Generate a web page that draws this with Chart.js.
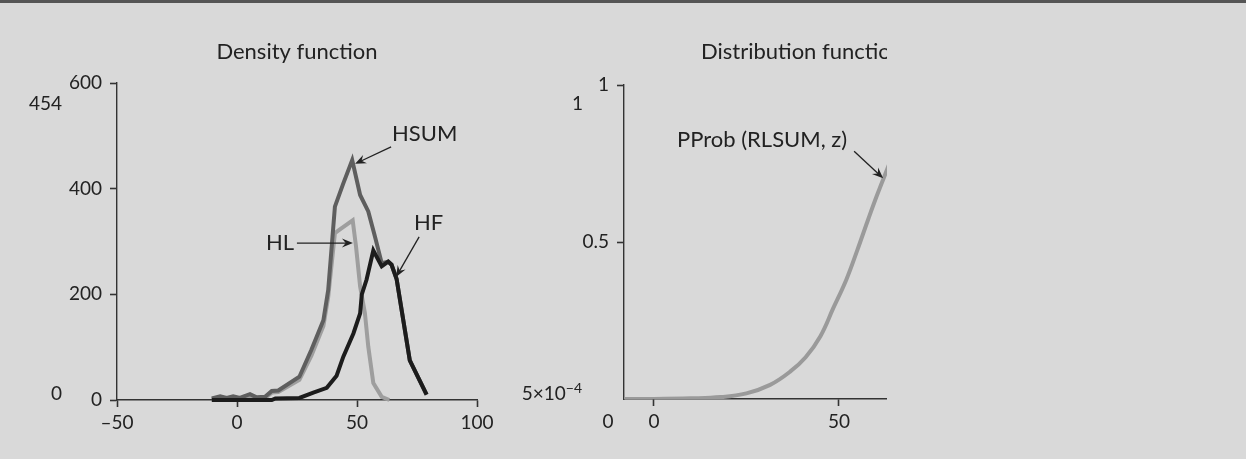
<!DOCTYPE html>
<html>
<head>
<meta charset="utf-8">
<script src="https://cdn.jsdelivr.net/npm/chart.js@4.4.1/dist/chart.umd.min.js"></script>
<style>
  html, body { margin: 0; padding: 0; background: #d9d9d9; }
  body { width: 1246px; height: 459px; position: relative; overflow: hidden; }
  #bar { position: absolute; left: 0; top: 0; width: 1246px; height: 3px; background: #555; z-index: 2; }
  canvas { position: absolute; top: 0; }
  #density { left: 0; }
  #distribution { left: 500px; }
</style>
</head>
<body>
<div id="bar"></div>
<canvas id="density" width="500" height="459"></canvas>
<canvas id="distribution" width="387" height="459"></canvas>
<script>
// ---- data ----
const hsumX = [-10.5, -7, -4.3, -1.6, 1.2, 5.4, 8.2, 11.7, 14.5, 17.2, 26, 31, 36, 38, 40.8, 44.3, 48, 51.3, 54.7, 57.5, 60.3, 63, 64.4, 66.5, 72, 79];
const hsumY = [3, 7, 4, 7, 4, 11, 5, 6, 17, 18, 44, 95, 151, 208, 366, 410, 454, 388, 357, 309, 259, 262, 256, 229, 75, 10];

const hlX = [-10.5, -7, -4.3, -1.6, 1.2, 5.4, 8.2, 11.7, 14.5, 17.2, 26, 31, 36, 38, 40.8, 42.6, 48.2, 49.6, 51.3, 53.3, 54.7, 56.8, 60.3, 63.5];
const hlY = [2, 5, 3, 5, 3, 8, 4, 4, 14, 15, 38, 84, 140, 195, 316, 322, 340, 290, 215, 164, 101, 32, 6, 0];

const hfX = [-10.5, 14.5, 16, 26, 31.8, 37.4, 41.5, 44.3, 48.5, 51.3, 52, 54, 56.8, 60.3, 63, 64.4, 66.5, 72, 79];
const hfY = [0, 0, 3, 4, 14, 23, 46, 82, 126, 164, 200, 228, 283, 253, 262, 256, 229, 75, 10];

const cdfX = [-8.1, 0, 10, 18, 25, 31.4, 36.8, 41, 45, 48.5, 52, 55, 58, 60.5, 63.5];
const cdfY = [0, 0, 0.002, 0.006, 0.018, 0.045, 0.087, 0.133, 0.2, 0.29, 0.38, 0.475, 0.575, 0.655, 0.745];

const densityXTicks = [-50, 0, 50, 100];
const densityYTicks = [0, 200, 400, 600];
const distXTicks = [0, 50];
const distYTicks = [0.5, 1];

const FONT = 'Lato, "DejaVu Sans", sans-serif';
const INK = '#222';
const AXIS = '#333';

Chart.defaults.font.family = FONT;
Chart.defaults.color = INK;

function points(xs, ys) {
    return xs.map((x, i) => ({ x: x, y: ys[i] }));
}

function stealth(ctx, x0, y0, x1, y1) {
    const a = Math.atan2(y1 - y0, x1 - x0);
    const len = 11, half = 4.5;
    ctx.beginPath();
    ctx.moveTo(x0, y0);
    ctx.lineTo(x1 - Math.cos(a) * len * 0.6, y1 - Math.sin(a) * len * 0.6);
    ctx.stroke();
    ctx.save();
    ctx.translate(x1, y1);
    ctx.rotate(a);
    ctx.beginPath();
    ctx.moveTo(0, 0);
    ctx.lineTo(-len, -half);
    ctx.lineTo(-len * 0.65, 0);
    ctx.lineTo(-len, half);
    ctx.closePath();
    ctx.fill();
    ctx.restore();
}

// titles, extra range labels and arrows
const deco = {
    id: "deco",
    afterDraw(chart, args, opts) {
        const ctx = chart.ctx;
        const xs = chart.scales.x, ys = chart.scales.y;
        ctx.save();
        ctx.fillStyle = INK;
        ctx.strokeStyle = INK;
        ctx.lineWidth = 1.3;
        ctx.textBaseline = "alphabetic";

        const t = opts.title;
        ctx.font = "22px " + FONT;
        ctx.textAlign = t.align;
        ctx.fillText(t.text, t.x, t.y);

        ctx.font = "19px " + FONT;
        (opts.extras || []).forEach(e => {
            ctx.textAlign = e.align || "right";
            if (e.sup) {
                ctx.font = "14px " + FONT;
                const w = ctx.measureText(e.sup).width;
                ctx.textAlign = "right";
                ctx.fillText(e.sup, e.x, e.y - 7);
                ctx.font = "19px " + FONT;
                ctx.fillText(e.text, e.x - w, e.y);
            } else {
                ctx.fillText(e.text, e.x, e.y);
            }
        });

        ctx.font = "22px " + FONT;
        (opts.arrows || []).forEach(a => {
            ctx.textAlign = "left";
            ctx.fillText(a.text, a.tx, a.ty);
            const px = xs.getPixelForValue(a.at[0]);
            const py = ys.getPixelForValue(a.at[1]);
            stealth(ctx, px + a.tail[0], py + a.tail[1], px, py);
        });
        ctx.restore();
    }
};

function axis(min, max, tickList, fit, isX, label) {
    return {
        type: "linear",
        min: min,
        max: max,
        afterBuildTicks: s => { s.ticks = tickList.map(v => ({ value: v })); },
        afterFit: s => { if (isX) s.height = fit; else s.width = fit; },
        border: { display: true, color: AXIS, width: 1.4 },
        grid: { display: true, drawOnChartArea: false, drawTicks: true, tickLength: 7, tickColor: AXIS, tickWidth: 1.6 },
        ticks: {
            font: { size: 19 },
            color: INK,
            padding: isX ? 4 : 8,
            maxRotation: 0,
            autoSkip: false,
            callback: label
        }
    };
}

const common = {
    responsive: false,
    devicePixelRatio: 1,
    animation: false,
    events: [],
    plugins: { legend: { display: false }, tooltip: { enabled: false } },
    elements: { point: { radius: 0 } }
};

new Chart(document.getElementById("density"), {
    type: "line",
    data: {
        datasets: [
            { label: "HF", data: points(hfX, hfY), borderColor: "#1c1c1c", borderWidth: 4, tension: 0, clip: 6 },
            { label: "HSUM", data: points(hsumX, hsumY), borderColor: "#5e5e5e", borderWidth: 4, tension: 0, clip: 6 },
            { label: "HL", data: points(hlX, hlY), borderColor: "#9e9e9e", borderWidth: 4, tension: 0, clip: 6 }
        ]
    },
    options: Object.assign({}, common, {
        layout: { padding: { left: 0, right: 23, top: 83, bottom: 0 } },
        scales: {
            x: axis(-50, 100, densityXTicks, 59, true, v => String(v).replace("-", "\u2013")),
            y: axis(0, 600, densityYTicks, 117, false, v => String(v))
        },
        plugins: Object.assign({}, common.plugins, {
            deco: {
                title: { text: "Density function", x: 297, y: 59, align: "center" },
                extras: [
                    { text: "454", x: 62, y: 110 },
                    { text: "0", x: 62, y: 400 }
                ],
                arrows: [
                    { text: "HSUM", tx: 392, ty: 141, at: [49.2, 447], tail: [36, -17] },
                    { text: "HL", tx: 266, ty: 250, at: [48.3, 297], tail: [-56, 0] },
                    { text: "HF", tx: 414, ty: 230, at: [66.3, 233], tail: [23, -40] }
                ]
            }
        })
    }),
    plugins: [deco]
});

new Chart(document.getElementById("distribution"), {
    type: "line",
    data: {
        datasets: [
            { label: "PProb (RLSUM, z)", data: points(cdfX, cdfY), borderColor: "#9a9a9a", borderWidth: 4, tension: 0.4, clip: 0 }
        ]
    },
    options: Object.assign({}, common, {
        layout: { padding: { left: 0, right: 0, top: 85, bottom: 0 } },
        scales: {
            x: axis(-8.1, 63, distXTicks, 60, true, v => String(v)),
            y: axis(0, 1, distYTicks, 124, false, v => String(v))
        },
        plugins: Object.assign({}, common.plugins, {
            deco: {
                title: { text: "Distribution function", x: 201, y: 59, align: "left" },
                extras: [
                    { text: "1", x: 83, y: 110 },
                    { text: "5\u00d710", sup: "\u22124", x: 82, y: 400 },
                    { text: "0", x: 108, y: 428, align: "center" }
                ],
                arrows: [
                    { text: "PProb (RLSUM, z)", tx: 177, ty: 147, at: [61.95, 0.703], tail: [-29, -27] }
                ]
            }
        })
    }),
    plugins: [deco]
});
</script>
</body>
</html>
